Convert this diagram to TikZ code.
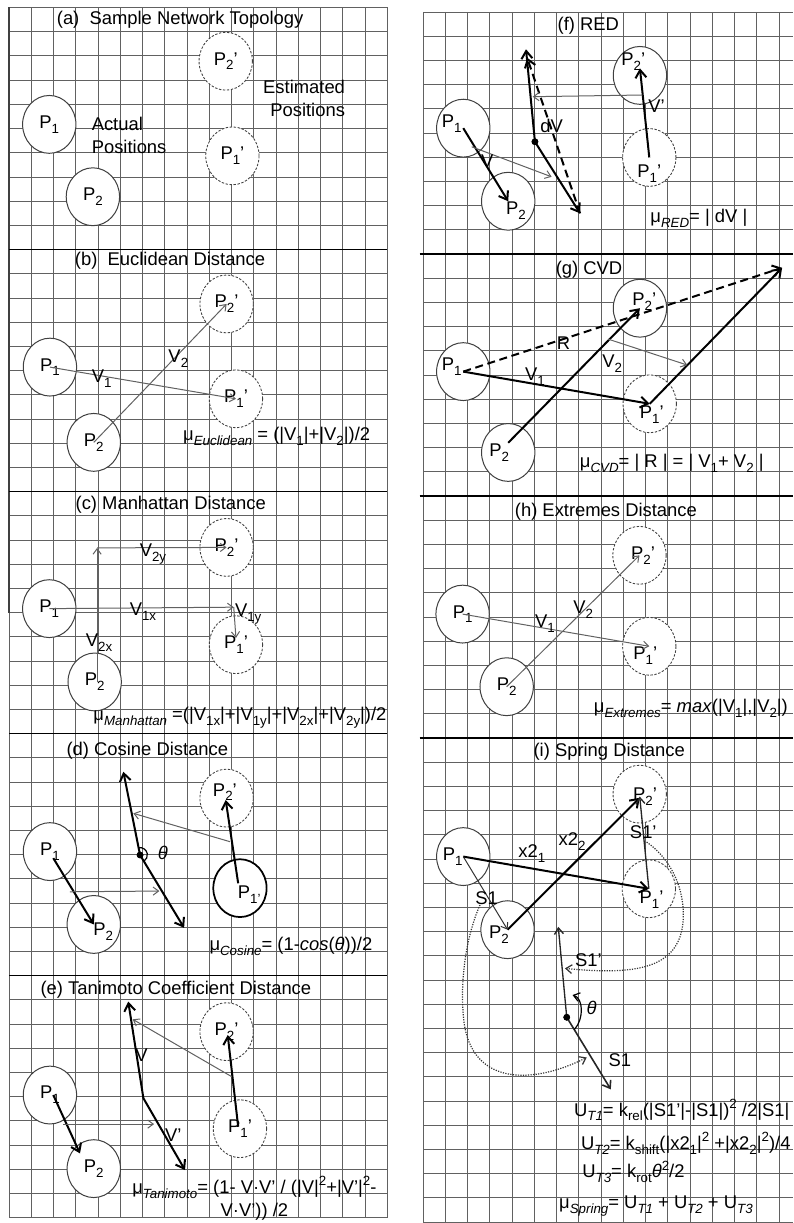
\documentclass[tikz,border=0pt]{standalone}
\usepackage{fontspec}
\setmainfont{Liberation Sans}
\usetikzlibrary{arrows.meta,shapes.geometric}
\newcommand\dsub[1]{\raisebox{-0.5ex}{\fontsize{10}{10}\selectfont #1}}
\newcommand\dsup[1]{\raisebox{0.8ex}{\fontsize{10}{10}\selectfont #1}}
\newcommand\pcirc[6][]{\node[pnode,#1,label={[plabel,xshift=#5,yshift=#6]center:#4}] (#2) at (#3) {};}
\begin{document}
\begin{tikzpicture}[x=16.6875pt,y=-18.15pt,
  >={Straight Barb[length=2.5pt 2.2,width=4pt 2.8]},
  every node/.style={font=\fontsize{13.8}{17}\selectfont, inner sep=0pt, outer sep=0pt},
  gridline/.style={draw=black!62, line width=0.6pt},
  divider/.style={draw=black, line width=1.4pt},
  pnode/.style={ellipse, draw=black!75, line width=0.75pt, fill=white, minimum width=40pt, minimum height=43.4pt},
  est/.style={draw=black!75, dash pattern=on 1.8pt off 1.2pt, line width=0.65pt},
  solidP/.style={draw=black, line width=1.3pt},
  plabel/.style={},
  thinarr/.style={draw=black!62, line width=0.75pt, ->},
  medarr/.style={draw=black!85, line width=1pt, ->},
  thickarr/.style={draw=black, line width=1.5pt, ->},
  thickboth/.style={draw=black, line width=1.5pt, <->},
  thickdash/.style={draw=black, line width=1.5pt, dash pattern=on 6pt off 3.5pt, ->},
  dotcurve/.style={draw=black!80, line width=0.9pt, densely dotted, ->},
  dotnode/.style={circle, fill=black, minimum size=5pt},
]
\useasboundingbox (0pt,0pt) rectangle (594.75pt,-917.25pt);

% ---------- grids ----------
\begin{scope}[shift={(0.4045,0.31)}]
\foreach \i in {0,...,17} {\draw[gridline] (\i,0) -- (\i,50);}
\foreach \j in {0,...,50} {\draw[gridline] (0,\j) -- (17,\j);}
\draw[draw=black!75, line width=1.6pt] (0,0) -- (0,25);
\foreach \j in {10,20,30,40} {\draw[divider] (0,\j) -- (17,\j);}
\end{scope}
\begin{scope}[shift={(19.011,0.496)}]
\foreach \i in {0,...,16} {\draw[gridline] (\i,0) -- (\i,50);}
\foreach \j in {0,...,50} {\draw[gridline] (0,\j) -- (16.65,\j);}
\foreach \j in {10,20,30} {\draw[divider] (-0.15,\j) -- (16.65,\j);}
\end{scope}

% ---------- (a) ----------
\begin{scope}[shift={(0.4045,0.31)}]
\node (ta) at (7.69,0.52) {(a)\ \ Sample Network Topology};
\pcirc{a1}{1.81,4.83}{P\dsub{1}}{0pt}{0pt}
\pcirc{a2}{3.77,7.82}{P\dsub{2}}{0pt}{0pt}
\pcirc[est]{a2p}{9.74,2.22}{P\dsub{2}'}{0pt}{0pt}
\pcirc[est]{a1p}{10.04,6.13}{P\dsub{1}'}{0pt}{0pt}
\node[anchor=west, align=left] (aact) at (3.72,5.28) {Actual\\Positions};
\node[anchor=east, align=right] (aest) at (15.1,3.76) {Estimated\\Positions};
\end{scope}

% ---------- (b) ----------
\begin{scope}[shift={(0.4045,10.31)}]
\node (tb) at (7.24,0.48) {(b)\ \ Euclidean Distance};
\pcirc{b1}{1.84,4.86}{P\dsub{1}}{0pt}{0pt}
\pcirc{b2}{3.81,7.97}{P\dsub{2}}{0pt}{0pt}
\pcirc[est]{b2p}{9.78,2.25}{P\dsub{2}'}{0pt}{0pt}
\pcirc[est]{b1p}{10.2,6.17}{P\dsub{1}'}{0pt}{0pt}
\draw[thinarr] (b1.center) -- (b1p.center);
\draw[thinarr] (b2.center) -- (b2p.center);
\node (bv1) at (4.17,5.32) {V\dsub{1}};
\node (bv2) at (7.61,4.5) {V\dsub{2}};
\node (bf) at (12.03,7.74) {μ\dsub{\itshape Euclidean} = (|V\dsub{1}|+|V\dsub{2}|)/2};
\end{scope}

% ---------- (c) ----------
\begin{scope}[shift={(0.4045,20.31)}]
\node (tc) at (7.27,0.54) {(c) Manhattan Distance};
\pcirc{c1}{1.81,4.84}{P\dsub{1}}{0pt}{0pt}
\pcirc{c2}{3.85,7.87}{P\dsub{2}}{0pt}{0pt}
\pcirc[est]{c2p}{9.78,2.31}{P\dsub{2}'}{0pt}{0pt}
\pcirc[est]{c1p}{10.2,6.33}{P\dsub{1}'}{0pt}{0pt}
\coordinate (c2k) at (3.96,2.33);
\coordinate (c1k) at (10.1,4.78);
\draw[thinarr] (c2.center -| c2k) -- (c2k);
\draw[thinarr] (c2k) -- (c2p.center);
\draw[thinarr] (c1.center) -- (c1k);
\draw[thinarr] (c1k) -- ([yshift=5pt]c1p.center);
\node (cv2x) at (4.05,6.26) {V\dsub{2x}};
\node (cv2y) at (6.47,2.6) {V\dsub{2y}};
\node (cv1x) at (6.02,4.96) {V\dsub{1x}};
\node (cv1y) at (10.75,5.08) {V\dsub{1y}};
\node (cf) at (10.38,9.35) {μ\dsub{\itshape Manhattan} =(|V\dsub{1x}|+|V\dsub{1y}|+|V\dsub{2x}|+|V\dsub{2y}|)/2};
\end{scope}

% ---------- (d) ----------
\begin{scope}[shift={(0.4045,30.31)}]
\node (td) at (6.22,0.71) {(d) Cosine Distance};
\pcirc{d1}{1.84,4.88}{P\dsub{1}}{0pt}{0pt}
\pcirc{d2}{3.81,7.89}{P\dsub{2}}{7pt}{-5.5pt}
\pcirc[est]{d2p}{9.78,2.67}{P\dsub{2}'}{-1.3pt}{4.5pt}
\pcirc[solidP]{d1p}{10.38,6.39}{P\dsub{1'}}{7pt}{-5pt}
\draw[thickarr] ([shift={(0.15,0.27)}]d1.center) -- (d2.center);
\draw[thickarr] ([shift={(-0.08,-0.2)}]d1p.center) -- ([shift={(-0.04,0.08)}]d2p.center);
\coordinate (dtop) at (5.14,1.58);
\coordinate (dbot) at (7.87,8.03);
\node[dotnode] (dd) at (5.89,5.02) {};
\draw[thickboth] (dtop) -- (dd.center) -- (dbot);
\fill[black] (dd.center) circle[radius=2.5pt];
\coordinate (dm1) at (9.93,4.47);
\coordinate (dm2) at (5.59,3.3);
\draw[thinarr] (dm1) -- (dm2);
\coordinate (dm3) at (2.74,6.54);
\coordinate (dm4) at (6.76,6.51);
\draw[thinarr] (dm3) -- (dm4);
\draw[line width=0.9pt] ([shift={(101:5.5pt)}]dd.center) arc[start angle=101, end angle=-59, radius=5.5pt];
\node (dth) at (6.91,4.95) {\itshape θ};
\node (df) at (12.67,8.81) {μ\dsub{\itshape Cosine}= (1-\textit{cos}(\textit{θ}))/2};
\end{scope}

% ---------- (e) ----------
\begin{scope}[shift={(0.4045,40.31)}]
\node (te) at (7.5,0.6) {(e) Tanimoto Coefficient Distance};
\pcirc{e1}{1.84,4.94}{P\dsub{1}}{0pt}{0pt}
\pcirc{e2}{3.81,7.98}{P\dsub{2}}{0pt}{0pt}
\pcirc[est]{e2p}{9.78,2.32}{P\dsub{2}'}{0pt}{0pt}
\pcirc[est]{e1p}{10.38,6.33}{P\dsub{1}'}{0pt}{0pt}
\draw[thickarr] ([shift={(-0.08,-0.08)}]e1p.center) -- ([shift={(0.05,0.14)}]e2p.center);
\draw[thickarr] ([shift={(0.15,0)}]e1.center) -- ([shift={(-0.62,-0.63)}]e2.center);
\coordinate (ev) at (6.04,5.07);
\coordinate (etop) at (5.36,1.08);
\coordinate (ebot) at (7.91,8.04);
\draw[thickboth] (etop) -- (ev) -- (ebot);
\coordinate (em1) at (10.01,4.18);
\coordinate (em2) at (5.56,1.81);
\draw[thinarr] (em1) -- (em2);
\coordinate (em3) at (2.44,6.14);
\coordinate (em4) at (6.52,6.14);
\draw[thinarr] (em3) -- (em4);
\node (ev1) at (5.96,3.29) {V};
\node (ev2) at (7.38,6.59) {V'};
\node[align=center] (ef) at (11.03,9.21) {μ\dsub{\itshape Tanimoto}= (1- V·V' / (|V|\dsup{2}+|V'|\dsup{2}-\\V·V')) /2};
\end{scope}

% ---------- (f) ----------
\begin{scope}[shift={(19.011,0.496)}]
\node (tf) at (7.43,0.58) {(f) RED};
\pcirc{f1}{1.81,4.8}{P\dsub{1}}{-8.7pt}{3.2pt}
\pcirc{f2}{3.83,7.82}{P\dsub{2}}{5.8pt}{-7pt}
\pcirc{f2p}{9.75,2.62}{P\dsub{2}'}{-5pt}{10pt}
\pcirc[est]{f1p}{10.17,6.01}{P\dsub{1}'}{0pt}{-11.9pt}
\draw[thickarr] (f1p.center) -- ([shift={(0,-0.29)}]f2p.center);
\draw[thickarr] (f1.center) -- (f2.center);
\coordinate (ftop) at (4.63,1.54);
\coordinate (fbot) at (7.06,8.32);
\node[dotnode] (fd) at (5.03,5.36) {};
\draw[thickboth] (ftop) -- (fd.center) -- (fbot);
\fill[black] (fd.center) circle[radius=2.5pt];
\draw[thickdash] (fbot) -- ([shift={(0.05,0.35)}]ftop);
\coordinate (fm1) at (9.86,3.43);
\coordinate (fm2) at (4.93,3.5);
\draw[thinarr] (fm1) -- (fm2);
\coordinate (fm3) at (2.19,5.57);
\coordinate (fm4) at (5.78,6.81);
\draw[thinarr] (fm3) -- (fm4);
\node (fvp) at (10.5,3.91) {V'};
\node (fv) at (2.89,6.18) {V};
\node (fdv) at (5.78,4.71) {dV};
\node (ff) at (12.4,8.52) {μ\dsub{\itshape RED}= | dV |};
\end{scope}

% ---------- (g) ----------
\begin{scope}[shift={(19.011,10.496)}]
\node (tg) at (7.46,0.66) {(g) CVD};
\pcirc{g1}{1.81,4.86}{P\dsub{1}}{-8.7pt}{3.8pt}
\pcirc{g2}{3.83,8.2}{P\dsub{2}}{-6.7pt}{0pt}
\pcirc{g2p}{9.75,2.24}{P\dsub{2}'}{3.2pt}{5pt}
\pcirc[est]{g1p}{10.19,6.19}{P\dsub{1}'}{1.5pt}{-8.4pt}
\coordinate (gtip) at (16.14,0.57);
\draw[thickdash] (g1.center) -- (gtip);
\draw[thickarr] (g1.center) -- (g1p.center);
\draw[thickarr] ([shift={(0,-0.4)}]g2.center) -- (g2p.center);
\draw[thickarr] (g1p.center) -- (gtip);
\coordinate (gm1) at (8.33,3.52);
\coordinate (gm2) at (11.88,4.59);
\draw[thinarr] (gm1) -- (gm2);
\node (gr) at (6.31,3.67) {R};
\node (gv1) at (5.03,5.07) {V\dsub{1}};
\node (gv2) at (8.5,4.52) {V\dsub{2}};
\node (gf) at (11.18,8.65) {μ\dsub{\itshape CVD}= | R | = | V\dsub{1}+ V\dsub{2} |};
\end{scope}

% ---------- (h) ----------
\begin{scope}[shift={(19.011,20.496)}]
\node (th) at (8.22,0.67) {(h) Extremes Distance};
\pcirc{h1}{1.78,4.88}{P\dsub{1}}{0pt}{0pt}
\pcirc{h2}{3.76,7.88}{P\dsub{2}}{0pt}{0pt}
\pcirc[est]{h2p}{9.73,2.45}{P\dsub{2}'}{2.6pt}{0pt}
\pcirc[est]{h1p}{10.17,6.21}{P\dsub{1}'}{-3pt}{-7.3pt}
\draw[thinarr] (h1.center) -- (h1p.center);
\draw[thinarr] (h2.center) -- (h2p.center);
\node (hv1) at (5.48,5.27) {V\dsub{1}};
\node (hv2) at (7.2,4.71) {V\dsub{2}};
\node (hf) at (12.04,8.77) {μ\dsub{\itshape Extremes}= \textit{max}(|V\dsub{1}|,|V\dsub{2}|)};
\end{scope}

% ---------- (i) ----------
\begin{scope}[shift={(19.011,30.496)}]
\node (ti) at (8.37,0.57) {(i) Spring Distance};
\pcirc{i1}{1.81,4.9}{P\dsub{1}}{-8pt}{0pt}
\pcirc{i2}{3.8,7.92}{P\dsub{2}}{-6.4pt}{-3.5pt}
\pcirc[est]{i2p}{9.74,2.32}{P\dsub{2}'}{4pt}{-2pt}
\pcirc[est]{i1p}{10.15,6.23}{P\dsub{1}'}{2pt}{-8.4pt}
\draw[thickarr] (i1.center) -- (i1p.center);
\draw[thickarr] (i2.center) -- ([shift={(0,0.15)}]i2p.center);
\draw[thinarr, draw=black!80] (i1.center) -- (i2.center);
\draw[medarr] (i1p.center) -- ([shift={(0,0.1)}]i2p.center);
\node (ix1) at (4.89,4.79) {x2\dsub{1}};
\node (ix2) at (6.7,4.28) {x2\dsub{2}};
\node (is1) at (2.86,6.62) {S1};
\node (is1p) at (9.9,3.88) {S1'};
\coordinate (itop) at (6.08,7.8);
\coordinate (ibot) at (8.44,14.52);
\node[dotnode] (idot) at (6.46,11.54) {};
\draw[medarr] (idot.center) -- (itop);
\draw[medarr, line width=1.2pt] (idot.center) -- (ibot);
\fill[black] (idot.center) circle[radius=2.5pt];
\coordinate (ith1) at (6.8,12.05);
\coordinate (ith2) at (6.72,10.62);
\draw[line width=0.9pt, ->] (ith1) .. controls (7.25,11.6) and (7.2,10.75) .. (ith2);
\node (ith) at (7.58,11.17) {\itshape θ};
\node (is1b) at (8.85,13.3) {S1};
\node (is1pb) at (7.43,9.17) {S1'};
\coordinate (ic1) at (10.05,4.3);
\coordinate (ic2) at (6.38,9.52);
\draw[dotcurve] (ic1) .. controls (11.0,4.9) and (11.7,6.0) .. (11.7,7.3) .. controls (11.7,9.6) and (9.5,9.8) .. (ic2);
\coordinate (ic3) at (2.56,6.9);
\coordinate (ic4) at (7.36,13.2);
\draw[dotcurve] (ic3) .. controls (1.9,8.3) and (1.7,10.0) .. (1.8,11.3) .. controls (1.95,14.5) and (5.0,14.3) .. (ic4);
\node (iu1) at (11.63,15.37) {U\dsub{\itshape T1}= k\dsub{rel}(|S1'|-|S1|)\dsup{2} /2|S1|};
\node (iu2) at (11.81,16.75) {U\dsub{\itshape T2}= k\dsub{shift}(|x2\dsub{1}|\dsup{2} +|x2\dsub{2}|\dsup{2})/4};
\node (iu3) at (9.46,17.93) {U\dsub{\itshape T3}= k\dsub{rot}\textit{θ}\dsup{2}/2};
\node (iu4) at (10.47,19.33) {μ\dsub{\itshape Spring}= U\dsub{\itshape T1} + U\dsub{\itshape T2} + U\dsub{\itshape T3}};
\end{scope}
\end{tikzpicture}
\end{document}
